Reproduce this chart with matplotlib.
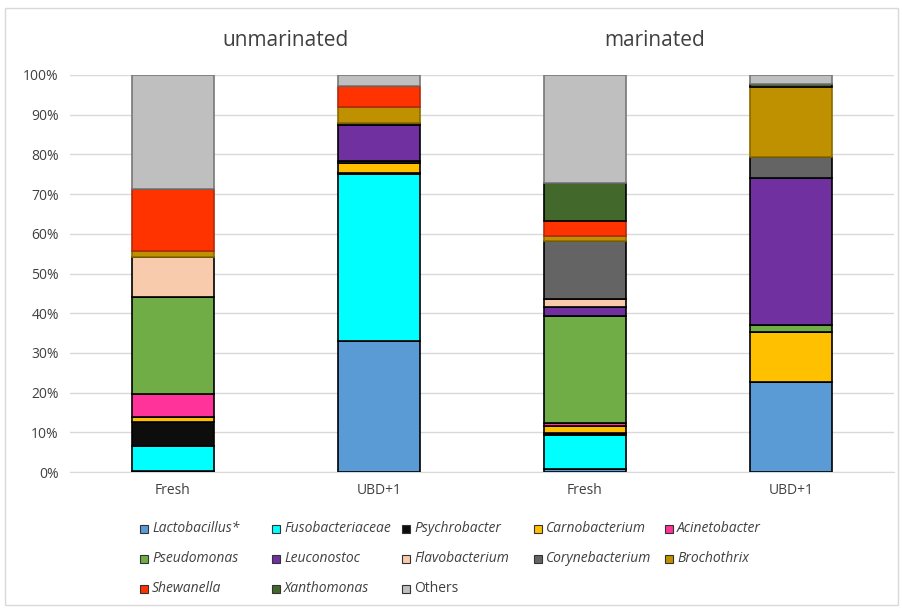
import matplotlib.pyplot as plt
import matplotlib.patches as patches
import numpy as np

plt.rcParams['font.family'] = ['Open Sans', 'DejaVu Sans']

samples = ["Fresh", "UBD+1", "Fresh", "UBD+1"]
groups = ["unmarinated", "marinated"]

taxa = ["Lactobacillus*", "Fusobacteriaceae", "Psychrobacter", "Carnobacterium",
        "Acinetobacter", "Pseudomonas", "Leuconostoc", "Flavobacterium",
        "Corynebacterium", "Brochothrix", "Shewanella", "Xanthomonas", "Others"]

# relative abundance (%) per sample, same order as samples
lactobacillus = [0.3, 33.0, 0.7, 22.7]
fusobacteriaceae = [6.2, 42.1, 8.6, 0.0]
psychrobacter = [6.1, 0.3, 0.4, 0.0]
carnobacterium = [1.3, 2.4, 1.9, 12.6]
acinetobacter = [5.7, 0.0, 0.7, 0.0]
pseudomonas = [24.4, 0.5, 27.1, 1.7]
leuconostoc = [0.0, 9.2, 2.2, 37.1]
flavobacterium = [10.2, 0.0, 1.9, 0.0]
corynebacterium = [0.0, 0.3, 14.7, 5.3]
brochothrix = [1.5, 4.2, 1.2, 17.7]
shewanella = [15.6, 5.3, 3.9, 0.0]
xanthomonas = [0.0, 0.0, 9.4, 0.6]
others = [28.7, 2.7, 27.3, 2.3]

values = [lactobacillus, fusobacteriaceae, psychrobacter, carnobacterium,
          acinetobacter, pseudomonas, leuconostoc, flavobacterium,
          corynebacterium, brochothrix, shewanella, xanthomonas, others]

colors = ['#5B9BD5', '#00FFFF', '#0D0D0D', '#FFC000', '#FF3399', '#70AD47',
          '#7030A0', '#F8CBAD', '#646464', '#BF9000', '#FF3300', '#43682B', '#BFBFBF']
edges = ['black', 'black', 'black', 'black', 'black', 'black', 'black', 'black',
         'black', '#8a6a00', '#b02a10', 'black', '#777777']

fig = plt.figure(figsize=(9.03, 6.09), dpi=100)
ax = fig.add_axes([70/903, 1-472/609, 824/903, 397/609])

x = np.arange(len(samples))
bottom = np.zeros(len(samples))
for name, vals, c, ec in zip(taxa, values, colors, edges):
    vals = np.array(vals)
    ax.bar(x, vals, width=0.4, bottom=bottom, color=c, edgecolor=ec, linewidth=1.2, zorder=3)
    bottom += vals

ax.set_xlim(-0.5, 3.5)
ax.set_ylim(0, 100)
ax.set_yticks(np.arange(0, 101, 10))
ax.set_yticklabels([f"{v}%" for v in range(0, 101, 10)], fontsize=10, color='#404040')
ax.set_xticks(x)
ax.set_xticklabels(samples, fontsize=10, color='#404040')
ax.tick_params(length=0, pad=8)
ax.grid(axis='y', color='#D9D9D9', linewidth=1, zorder=0)
for s in ['top', 'right', 'left']:
    ax.spines[s].set_visible(False)
ax.spines['bottom'].set_color('#D9D9D9')

# group titles
fig.text(286/903, 1-40/609, groups[0], fontsize=15, color='#404040', ha='center', va='center')
fig.text(655/903, 1-40/609, groups[1], fontsize=15, color='#404040', ha='center', va='center')

# legend laid out like the spreadsheet one: 5 columns, 3 rows
col_x = [144, 276, 406, 538, 669]
row_y = [529, 559, 589]
for i, (name, c) in enumerate(zip(taxa, colors)):
    cx = col_x[i % 5]
    cy = row_y[i // 5]
    fig.patches.append(patches.Rectangle(((cx-4)/903, 1-(cy+4)/609), 8/903, 8/609,
                                         transform=fig.transFigure, facecolor=c,
                                         edgecolor='#333333', linewidth=0.8))
    fig.text((cx+8)/903, 1-cy/609, name, fontsize=10, color='#404040', va='center',
             style='normal' if name == "Others" else 'italic')

# chart border
fig.patches.append(patches.Rectangle((5/903, 4/609), 893/903, 597/609,
                                     transform=fig.transFigure, fill=False,
                                     edgecolor='#D9D9D9', linewidth=1))

plt.savefig("out.png", dpi=100)
